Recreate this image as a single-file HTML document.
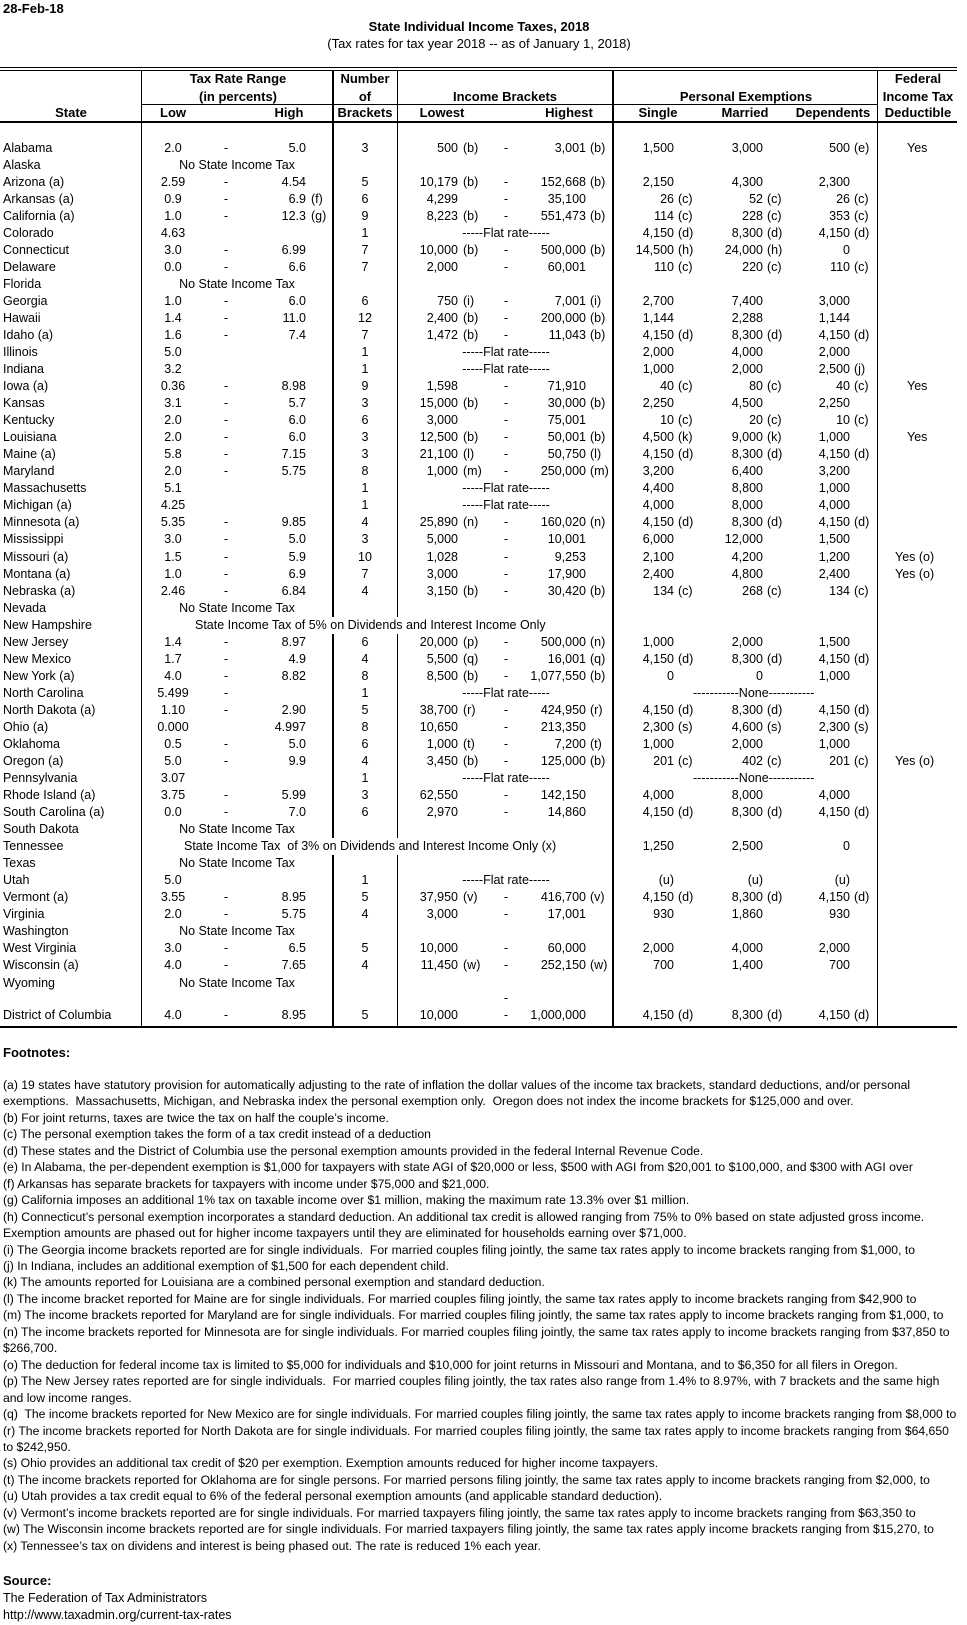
<!DOCTYPE html>
<html><head><meta charset="utf-8">
<style>
*{margin:0;padding:0}
body{width:967px;height:1625px;position:relative;background:#fff;font-family:"Liberation Sans",Arial,sans-serif;color:#000;overflow:hidden}
.a{position:absolute;white-space:nowrap}
.hd{position:absolute;white-space:nowrap;font-weight:bold;font-size:13px;line-height:16px}
.ln{position:absolute;background:#000}
.r{position:absolute;left:0;width:967px;height:17px;line-height:17px;font-size:12.5px}
.r span{position:absolute;white-space:nowrap;top:0}
.s{left:3px}
.lo{left:143px;width:60px;text-align:center}
.d1{left:216px;width:20px;text-align:center}
.hi{right:661px}
.hs{left:311px}
.nb{left:333px;width:64px;text-align:center}
.lw{right:509px}
.ls{left:463px}
.d2{left:496px;width:20px;text-align:center}
.hg{right:381px}
.hx{left:590px}
.sg{right:293px}
.sx{left:678px}
.mr{right:204px}
.mx{left:767px}
.dp{right:117px}
.dx{left:854px}
.fd{left:907px}
.fo{left:895px}
.nt{left:141px;width:192px;text-align:center}
.fl{left:456px;width:100px;text-align:center}
.no{left:693px;width:120px;text-align:center}
.fn{position:absolute;left:3px;font-size:12.2px;white-space:nowrap;line-height:16.46px}
</style></head><body>
<div class="a" style="left:3px;top:1px;font-weight:bold;font-size:13px">28-Feb-18</div>
<div class="a" style="left:279px;width:400px;text-align:center;top:19px;font-weight:bold;font-size:13px">State Individual Income Taxes, 2018</div>
<div class="a" style="left:279px;width:400px;text-align:center;top:36px;font-size:13px">(Tax rates for tax year 2018 -- as of January 1, 2018)</div>

<div class="ln" style="left:0;top:67px;width:957px;height:1px"></div>
<div class="ln" style="left:0;top:70px;width:957px;height:1px"></div>
<div class="ln" style="left:141px;top:104px;width:736px;height:1px"></div>
<div class="ln" style="left:0;top:121px;width:957px;height:2px"></div>
<div class="ln" style="left:0;top:1026px;width:957px;height:2px"></div>
<div class="ln" style="left:141px;top:70px;width:1px;height:957px"></div>
<div class="ln" style="left:332px;top:70px;width:2px;height:957px"></div>
<div class="ln" style="left:397px;top:70px;width:1px;height:957px"></div>
<div class="ln" style="left:612px;top:70px;width:2px;height:957px"></div>
<div class="ln" style="left:877px;top:70px;width:1px;height:957px"></div>

<div class="hd" style="left:141px;width:194px;text-align:center;top:71px">Tax Rate Range</div>
<div class="hd" style="left:141px;width:194px;text-align:center;top:89px">(in percents)</div>
<div class="hd" style="left:31px;width:80px;text-align:center;top:105px">State</div>
<div class="hd" style="left:143px;width:60px;text-align:center;top:105px">Low</div>
<div class="hd" style="left:259px;width:60px;text-align:center;top:105px">High</div>
<div class="hd" style="left:333px;width:64px;text-align:center;top:71px">Number</div>
<div class="hd" style="left:333px;width:64px;text-align:center;top:89px">of</div>
<div class="hd" style="left:333px;width:64px;text-align:center;top:105px">Brackets</div>
<div class="hd" style="left:430px;width:150px;text-align:center;top:89px">Income Brackets</div>
<div class="hd" style="left:402px;width:80px;text-align:center;top:105px">Lowest</div>
<div class="hd" style="left:529px;width:80px;text-align:center;top:105px">Highest</div>
<div class="hd" style="left:646px;width:200px;text-align:center;top:89px">Personal Exemptions</div>
<div class="hd" style="left:618px;width:80px;text-align:center;top:105px">Single</div>
<div class="hd" style="left:705px;width:80px;text-align:center;top:105px">Married</div>
<div class="hd" style="left:790px;width:86px;text-align:center;top:105px">Dependents</div>
<div class="hd" style="left:878px;width:80px;text-align:center;top:71px">Federal</div>
<div class="hd" style="left:878px;width:80px;text-align:center;top:89px">Income Tax</div>
<div class="hd" style="left:878px;width:80px;text-align:center;top:105px">Deductible</div>

<div class="r" style="top:139.5px"><span class="s">Alabama</span><span class="lo">2.0</span><span class="d1">-</span><span class="hi">5.0</span><span class="nb">3</span><span class="lw">500</span><span class="ls">(b)</span><span class="d2">-</span><span class="hg">3,001</span><span class="hx">(b)</span><span class="sg">1,500</span><span class="mr">3,000</span><span class="dp">500</span><span class="dx">(e)</span><span class="fd">Yes</span></div>
<div class="r" style="top:156.5px"><span class="s">Alaska</span><span class="nt">No State Income Tax</span></div>
<div class="r" style="top:173.6px"><span class="s">Arizona (a)</span><span class="lo">2.59</span><span class="d1">-</span><span class="hi">4.54</span><span class="nb">5</span><span class="lw">10,179</span><span class="ls">(b)</span><span class="d2">-</span><span class="hg">152,668</span><span class="hx">(b)</span><span class="sg">2,150</span><span class="mr">4,300</span><span class="dp">2,300</span></div>
<div class="r" style="top:190.6px"><span class="s">Arkansas (a)</span><span class="lo">0.9</span><span class="d1">-</span><span class="hi">6.9</span><span class="hs">(f)</span><span class="nb">6</span><span class="lw">4,299</span><span class="d2">-</span><span class="hg">35,100</span><span class="sg">26</span><span class="sx">(c)</span><span class="mr">52</span><span class="mx">(c)</span><span class="dp">26</span><span class="dx">(c)</span></div>
<div class="r" style="top:207.7px"><span class="s">California (a)</span><span class="lo">1.0</span><span class="d1">-</span><span class="hi">12.3</span><span class="hs">(g)</span><span class="nb">9</span><span class="lw">8,223</span><span class="ls">(b)</span><span class="d2">-</span><span class="hg">551,473</span><span class="hx">(b)</span><span class="sg">114</span><span class="sx">(c)</span><span class="mr">228</span><span class="mx">(c)</span><span class="dp">353</span><span class="dx">(c)</span></div>
<div class="r" style="top:224.7px"><span class="s">Colorado</span><span class="lo">4.63</span><span class="nb">1</span><span class="fl">-----Flat rate-----</span><span class="sg">4,150</span><span class="sx">(d)</span><span class="mr">8,300</span><span class="mx">(d)</span><span class="dp">4,150</span><span class="dx">(d)</span></div>
<div class="r" style="top:241.7px"><span class="s">Connecticut</span><span class="lo">3.0</span><span class="d1">-</span><span class="hi">6.99</span><span class="nb">7</span><span class="lw">10,000</span><span class="ls">(b)</span><span class="d2">-</span><span class="hg">500,000</span><span class="hx">(b)</span><span class="sg">14,500</span><span class="sx">(h)</span><span class="mr">24,000</span><span class="mx">(h)</span><span class="dp">0</span></div>
<div class="r" style="top:258.8px"><span class="s">Delaware</span><span class="lo">0.0</span><span class="d1">-</span><span class="hi">6.6</span><span class="nb">7</span><span class="lw">2,000</span><span class="d2">-</span><span class="hg">60,001</span><span class="sg">110</span><span class="sx">(c)</span><span class="mr">220</span><span class="mx">(c)</span><span class="dp">110</span><span class="dx">(c)</span></div>
<div class="r" style="top:275.8px"><span class="s">Florida</span><span class="nt">No State Income Tax</span></div>
<div class="r" style="top:292.9px"><span class="s">Georgia</span><span class="lo">1.0</span><span class="d1">-</span><span class="hi">6.0</span><span class="nb">6</span><span class="lw">750</span><span class="ls">(i)</span><span class="d2">-</span><span class="hg">7,001</span><span class="hx">(i)</span><span class="sg">2,700</span><span class="mr">7,400</span><span class="dp">3,000</span></div>
<div class="r" style="top:309.9px"><span class="s">Hawaii</span><span class="lo">1.4</span><span class="d1">-</span><span class="hi">11.0</span><span class="nb">12</span><span class="lw">2,400</span><span class="ls">(b)</span><span class="d2">-</span><span class="hg">200,000</span><span class="hx">(b)</span><span class="sg">1,144</span><span class="mr">2,288</span><span class="dp">1,144</span></div>
<div class="r" style="top:326.9px"><span class="s">Idaho (a)</span><span class="lo">1.6</span><span class="d1">-</span><span class="hi">7.4</span><span class="nb">7</span><span class="lw">1,472</span><span class="ls">(b)</span><span class="d2">-</span><span class="hg">11,043</span><span class="hx">(b)</span><span class="sg">4,150</span><span class="sx">(d)</span><span class="mr">8,300</span><span class="mx">(d)</span><span class="dp">4,150</span><span class="dx">(d)</span></div>
<div class="r" style="top:344.0px"><span class="s">Illinois</span><span class="lo">5.0</span><span class="nb">1</span><span class="fl">-----Flat rate-----</span><span class="sg">2,000</span><span class="mr">4,000</span><span class="dp">2,000</span></div>
<div class="r" style="top:361.0px"><span class="s">Indiana</span><span class="lo">3.2</span><span class="nb">1</span><span class="fl">-----Flat rate-----</span><span class="sg">1,000</span><span class="mr">2,000</span><span class="dp">2,500</span><span class="dx">(j)</span></div>
<div class="r" style="top:378.1px"><span class="s">Iowa (a)</span><span class="lo">0.36</span><span class="d1">-</span><span class="hi">8.98</span><span class="nb">9</span><span class="lw">1,598</span><span class="d2">-</span><span class="hg">71,910</span><span class="sg">40</span><span class="sx">(c)</span><span class="mr">80</span><span class="mx">(c)</span><span class="dp">40</span><span class="dx">(c)</span><span class="fd">Yes</span></div>
<div class="r" style="top:395.1px"><span class="s">Kansas</span><span class="lo">3.1</span><span class="d1">-</span><span class="hi">5.7</span><span class="nb">3</span><span class="lw">15,000</span><span class="ls">(b)</span><span class="d2">-</span><span class="hg">30,000</span><span class="hx">(b)</span><span class="sg">2,250</span><span class="mr">4,500</span><span class="dp">2,250</span></div>
<div class="r" style="top:412.2px"><span class="s">Kentucky</span><span class="lo">2.0</span><span class="d1">-</span><span class="hi">6.0</span><span class="nb">6</span><span class="lw">3,000</span><span class="d2">-</span><span class="hg">75,001</span><span class="sg">10</span><span class="sx">(c)</span><span class="mr">20</span><span class="mx">(c)</span><span class="dp">10</span><span class="dx">(c)</span></div>
<div class="r" style="top:429.2px"><span class="s">Louisiana</span><span class="lo">2.0</span><span class="d1">-</span><span class="hi">6.0</span><span class="nb">3</span><span class="lw">12,500</span><span class="ls">(b)</span><span class="d2">-</span><span class="hg">50,001</span><span class="hx">(b)</span><span class="sg">4,500</span><span class="sx">(k)</span><span class="mr">9,000</span><span class="mx">(k)</span><span class="dp">1,000</span><span class="fd">Yes</span></div>
<div class="r" style="top:446.2px"><span class="s">Maine (a)</span><span class="lo">5.8</span><span class="d1">-</span><span class="hi">7.15</span><span class="nb">3</span><span class="lw">21,100</span><span class="ls">(l)</span><span class="d2">-</span><span class="hg">50,750</span><span class="hx">(l)</span><span class="sg">4,150</span><span class="sx">(d)</span><span class="mr">8,300</span><span class="mx">(d)</span><span class="dp">4,150</span><span class="dx">(d)</span></div>
<div class="r" style="top:463.3px"><span class="s">Maryland</span><span class="lo">2.0</span><span class="d1">-</span><span class="hi">5.75</span><span class="nb">8</span><span class="lw">1,000</span><span class="ls">(m)</span><span class="d2">-</span><span class="hg">250,000</span><span class="hx">(m)</span><span class="sg">3,200</span><span class="mr">6,400</span><span class="dp">3,200</span></div>
<div class="r" style="top:480.3px"><span class="s">Massachusetts</span><span class="lo">5.1</span><span class="nb">1</span><span class="fl">-----Flat rate-----</span><span class="sg">4,400</span><span class="mr">8,800</span><span class="dp">1,000</span></div>
<div class="r" style="top:497.4px"><span class="s">Michigan (a)</span><span class="lo">4.25</span><span class="nb">1</span><span class="fl">-----Flat rate-----</span><span class="sg">4,000</span><span class="mr">8,000</span><span class="dp">4,000</span></div>
<div class="r" style="top:514.4px"><span class="s">Minnesota (a)</span><span class="lo">5.35</span><span class="d1">-</span><span class="hi">9.85</span><span class="nb">4</span><span class="lw">25,890</span><span class="ls">(n)</span><span class="d2">-</span><span class="hg">160,020</span><span class="hx">(n)</span><span class="sg">4,150</span><span class="sx">(d)</span><span class="mr">8,300</span><span class="mx">(d)</span><span class="dp">4,150</span><span class="dx">(d)</span></div>
<div class="r" style="top:531.4px"><span class="s">Mississippi</span><span class="lo">3.0</span><span class="d1">-</span><span class="hi">5.0</span><span class="nb">3</span><span class="lw">5,000</span><span class="d2">-</span><span class="hg">10,001</span><span class="sg">6,000</span><span class="mr">12,000</span><span class="dp">1,500</span></div>
<div class="r" style="top:548.5px"><span class="s">Missouri (a)</span><span class="lo">1.5</span><span class="d1">-</span><span class="hi">5.9</span><span class="nb">10</span><span class="lw">1,028</span><span class="d2">-</span><span class="hg">9,253</span><span class="sg">2,100</span><span class="mr">4,200</span><span class="dp">1,200</span><span class="fo">Yes (o)</span></div>
<div class="r" style="top:565.5px"><span class="s">Montana (a)</span><span class="lo">1.0</span><span class="d1">-</span><span class="hi">6.9</span><span class="nb">7</span><span class="lw">3,000</span><span class="d2">-</span><span class="hg">17,900</span><span class="sg">2,400</span><span class="mr">4,800</span><span class="dp">2,400</span><span class="fo">Yes (o)</span></div>
<div class="r" style="top:582.6px"><span class="s">Nebraska (a)</span><span class="lo">2.46</span><span class="d1">-</span><span class="hi">6.84</span><span class="nb">4</span><span class="lw">3,150</span><span class="ls">(b)</span><span class="d2">-</span><span class="hg">30,420</span><span class="hx">(b)</span><span class="sg">134</span><span class="sx">(c)</span><span class="mr">268</span><span class="mx">(c)</span><span class="dp">134</span><span class="dx">(c)</span></div>
<div class="r" style="top:599.6px"><span class="s">Nevada</span><span class="nt">No State Income Tax</span></div>
<div class="r" style="top:616.6px"><span class="s">New Hampshire</span><span style="left:195px;background:#fff">State Income Tax of 5% on Dividends and Interest Income Only</span></div>
<div class="r" style="top:633.7px"><span class="s">New Jersey</span><span class="lo">1.4</span><span class="d1">-</span><span class="hi">8.97</span><span class="nb">6</span><span class="lw">20,000</span><span class="ls">(p)</span><span class="d2">-</span><span class="hg">500,000</span><span class="hx">(n)</span><span class="sg">1,000</span><span class="mr">2,000</span><span class="dp">1,500</span></div>
<div class="r" style="top:650.7px"><span class="s">New Mexico</span><span class="lo">1.7</span><span class="d1">-</span><span class="hi">4.9</span><span class="nb">4</span><span class="lw">5,500</span><span class="ls">(q)</span><span class="d2">-</span><span class="hg">16,001</span><span class="hx">(q)</span><span class="sg">4,150</span><span class="sx">(d)</span><span class="mr">8,300</span><span class="mx">(d)</span><span class="dp">4,150</span><span class="dx">(d)</span></div>
<div class="r" style="top:667.8px"><span class="s">New York (a)</span><span class="lo">4.0</span><span class="d1">-</span><span class="hi">8.82</span><span class="nb">8</span><span class="lw">8,500</span><span class="ls">(b)</span><span class="d2">-</span><span class="hg">1,077,550</span><span class="hx">(b)</span><span class="sg">0</span><span class="mr">0</span><span class="dp">1,000</span></div>
<div class="r" style="top:684.8px"><span class="s">North Carolina</span><span class="lo">5.499</span><span class="d1">-</span><span class="nb">1</span><span class="fl">-----Flat rate-----</span><span class="no">-----------None-----------</span></div>
<div class="r" style="top:701.8px"><span class="s">North Dakota (a)</span><span class="lo">1.10</span><span class="d1">-</span><span class="hi">2.90</span><span class="nb">5</span><span class="lw">38,700</span><span class="ls">(r)</span><span class="d2">-</span><span class="hg">424,950</span><span class="hx">(r)</span><span class="sg">4,150</span><span class="sx">(d)</span><span class="mr">8,300</span><span class="mx">(d)</span><span class="dp">4,150</span><span class="dx">(d)</span></div>
<div class="r" style="top:718.9px"><span class="s">Ohio (a)</span><span class="lo">0.000</span><span class="hi">4.997</span><span class="nb">8</span><span class="lw">10,650</span><span class="d2">-</span><span class="hg">213,350</span><span class="sg">2,300</span><span class="sx">(s)</span><span class="mr">4,600</span><span class="mx">(s)</span><span class="dp">2,300</span><span class="dx">(s)</span></div>
<div class="r" style="top:735.9px"><span class="s">Oklahoma</span><span class="lo">0.5</span><span class="d1">-</span><span class="hi">5.0</span><span class="nb">6</span><span class="lw">1,000</span><span class="ls">(t)</span><span class="d2">-</span><span class="hg">7,200</span><span class="hx">(t)</span><span class="sg">1,000</span><span class="mr">2,000</span><span class="dp">1,000</span></div>
<div class="r" style="top:753.0px"><span class="s">Oregon (a)</span><span class="lo">5.0</span><span class="d1">-</span><span class="hi">9.9</span><span class="nb">4</span><span class="lw">3,450</span><span class="ls">(b)</span><span class="d2">-</span><span class="hg">125,000</span><span class="hx">(b)</span><span class="sg">201</span><span class="sx">(c)</span><span class="mr">402</span><span class="mx">(c)</span><span class="dp">201</span><span class="dx">(c)</span><span class="fo">Yes (o)</span></div>
<div class="r" style="top:770.0px"><span class="s">Pennsylvania</span><span class="lo">3.07</span><span class="nb">1</span><span class="fl">-----Flat rate-----</span><span class="no">-----------None-----------</span></div>
<div class="r" style="top:787.0px"><span class="s">Rhode Island (a)</span><span class="lo">3.75</span><span class="d1">-</span><span class="hi">5.99</span><span class="nb">3</span><span class="lw">62,550</span><span class="d2">-</span><span class="hg">142,150</span><span class="sg">4,000</span><span class="mr">8,000</span><span class="dp">4,000</span></div>
<div class="r" style="top:804.1px"><span class="s">South Carolina (a)</span><span class="lo">0.0</span><span class="d1">-</span><span class="hi">7.0</span><span class="nb">6</span><span class="lw">2,970</span><span class="d2">-</span><span class="hg">14,860</span><span class="sg">4,150</span><span class="sx">(d)</span><span class="mr">8,300</span><span class="mx">(d)</span><span class="dp">4,150</span><span class="dx">(d)</span></div>
<div class="r" style="top:821.1px"><span class="s">South Dakota</span><span class="nt">No State Income Tax</span></div>
<div class="r" style="top:838.2px"><span class="s">Tennessee</span><span style="left:184px;background:#fff">State Income Tax &nbsp;of 3% on Dividends and Interest Income Only (x)</span><span class="sg">1,250</span><span class="mr">2,500</span><span class="dp">0</span></div>
<div class="r" style="top:855.2px"><span class="s">Texas</span><span class="nt">No State Income Tax</span></div>
<div class="r" style="top:872.2px"><span class="s">Utah</span><span class="lo">5.0</span><span class="nb">1</span><span class="fl">-----Flat rate-----</span><span class="sg">(u)</span><span class="mr">(u)</span><span class="dp">(u)</span></div>
<div class="r" style="top:889.3px"><span class="s">Vermont (a)</span><span class="lo">3.55</span><span class="d1">-</span><span class="hi">8.95</span><span class="nb">5</span><span class="lw">37,950</span><span class="ls">(v)</span><span class="d2">-</span><span class="hg">416,700</span><span class="hx">(v)</span><span class="sg">4,150</span><span class="sx">(d)</span><span class="mr">8,300</span><span class="mx">(d)</span><span class="dp">4,150</span><span class="dx">(d)</span></div>
<div class="r" style="top:906.3px"><span class="s">Virginia</span><span class="lo">2.0</span><span class="d1">-</span><span class="hi">5.75</span><span class="nb">4</span><span class="lw">3,000</span><span class="d2">-</span><span class="hg">17,001</span><span class="sg">930</span><span class="mr">1,860</span><span class="dp">930</span></div>
<div class="r" style="top:923.4px"><span class="s">Washington</span><span class="nt">No State Income Tax</span></div>
<div class="r" style="top:940.4px"><span class="s">West Virginia</span><span class="lo">3.0</span><span class="d1">-</span><span class="hi">6.5</span><span class="nb">5</span><span class="lw">10,000</span><span class="d2">-</span><span class="hg">60,000</span><span class="sg">2,000</span><span class="mr">4,000</span><span class="dp">2,000</span></div>
<div class="r" style="top:957.4px"><span class="s">Wisconsin (a)</span><span class="lo">4.0</span><span class="d1">-</span><span class="hi">7.65</span><span class="nb">4</span><span class="lw">11,450</span><span class="ls">(w)</span><span class="d2">-</span><span class="hg">252,150</span><span class="hx">(w)</span><span class="sg">700</span><span class="mr">1,400</span><span class="dp">700</span></div>
<div class="r" style="top:974.5px"><span class="s">Wyoming</span><span class="nt">No State Income Tax</span></div>
<div class="r" style="top:990px"><span class="d2">-</span></div>
<div class="r" style="top:1006.5px"><span class="s">District of Columbia</span><span class="lo">4.0</span><span class="d1">-</span><span class="hi">8.95</span><span class="nb">5</span><span class="lw">10,000</span><span class="d2">-</span><span class="hg">1,000,000</span><span class="sg">4,150</span><span class="sx">(d)</span><span class="mr">8,300</span><span class="mx">(d)</span><span class="dp">4,150</span><span class="dx">(d)</span></div>

<div class="a" style="left:3px;top:1045px;font-weight:bold;font-size:13px">Footnotes:</div>
<div class="fn" style="top:1077px">(a) 19 states have statutory provision for automatically adjusting to the rate of inflation the dollar values of the income tax brackets, standard deductions, and/or personal<br>
exemptions.&nbsp; Massachusetts, Michigan, and Nebraska index the personal exemption only.&nbsp; Oregon does not index the income brackets for $125,000 and over.<br>
(b) For joint returns, taxes are twice the tax on half the couple’s income.<br>
(c) The personal exemption takes the form of a tax credit instead of a deduction<br>
(d) These states and the District of Columbia use the personal exemption amounts provided in the federal Internal Revenue Code.<br>
(e) In Alabama, the per-dependent exemption is $1,000 for taxpayers with state AGI of $20,000 or less, $500 with AGI from $20,001 to $100,000, and $300 with AGI over<br>
(f) Arkansas has separate brackets for taxpayers with income under $75,000 and $21,000.<br>
(g) California imposes an additional 1% tax on taxable income over $1 million, making the maximum rate 13.3% over $1 million.<br>
(h) Connecticut’s personal exemption incorporates a standard deduction. An additional tax credit is allowed ranging from 75% to 0% based on state adjusted gross income.<br>
Exemption amounts are phased out for higher income taxpayers until they are eliminated for households earning over $71,000.<br>
(i) The Georgia income brackets reported are for single individuals.&nbsp; For married couples filing jointly, the same tax rates apply to income brackets ranging from $1,000, to<br>
(j) In Indiana, includes an additional exemption of $1,500 for each dependent child.<br>
(k) The amounts reported for Louisiana are a combined personal exemption and standard deduction.<br>
(l) The income bracket reported for Maine are for single individuals. For married couples filing jointly, the same tax rates apply to income brackets ranging from $42,900 to<br>
(m) The income brackets reported for Maryland are for single individuals. For married couples filing jointly, the same tax rates apply to income brackets ranging from $1,000, to<br>
(n) The income brackets reported for Minnesota are for single individuals. For married couples filing jointly, the same tax rates apply to income brackets ranging from $37,850 to<br>
$266,700.<br>
(o) The deduction for federal income tax is limited to $5,000 for individuals and $10,000 for joint returns in Missouri and Montana, and to $6,350 for all filers in Oregon.<br>
(p) The New Jersey rates reported are for single individuals.&nbsp; For married couples filing jointly, the tax rates also range from 1.4% to 8.97%, with 7 brackets and the same high<br>
and low income ranges.<br>
(q)&nbsp; The income brackets reported for New Mexico are for single individuals. For married couples filing jointly, the same tax rates apply to income brackets ranging from $8,000 to<br>
(r) The income brackets reported for North Dakota are for single individuals. For married couples filing jointly, the same tax rates apply to income brackets ranging from $64,650<br>
to $242,950.<br>
(s) Ohio provides an additional tax credit of $20 per exemption. Exemption amounts reduced for higher income taxpayers.<br>
(t) The income brackets reported for Oklahoma are for single persons. For married persons filing jointly, the same tax rates apply to income brackets ranging from $2,000, to<br>
(u) Utah provides a tax credit equal to 6% of the federal personal exemption amounts (and applicable standard deduction).<br>
(v) Vermont’s income brackets reported are for single individuals. For married taxpayers filing jointly, the same tax rates apply to income brackets ranging from $63,350 to<br>
(w) The Wisconsin income brackets reported are for single individuals. For married taxpayers filing jointly, the same tax rates apply income brackets ranging from $15,270, to<br>
(x) Tennessee’s tax on dividens and interest is being phased out. The rate is reduced 1% each year.</div>

<div class="a" style="left:3px;top:1573px;font-weight:bold;font-size:13px">Source:</div>
<div class="a" style="left:3px;top:1591px;font-size:12.5px">The Federation of Tax Administrators</div>
<div class="a" style="left:3px;top:1608px;font-size:12.5px">http://www.taxadmin.org/current-tax-rates</div>
</body></html>
